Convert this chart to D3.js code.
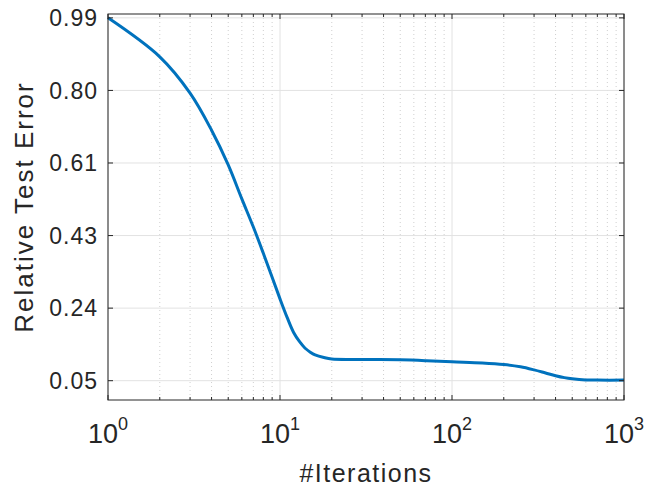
<!DOCTYPE html>
<html>
<head>
<meta charset="utf-8">
<script src="https://cdn.jsdelivr.net/npm/d3@7"></script>
<style>
  body { margin: 0; background: #fff; }
  svg text { font-family: "Liberation Sans", Arial, sans-serif; fill: #262626; }
</style>
</head>
<body>
<div id="chart"></div>
<script>
// values
const iterations = [1, 2, 3, 4, 5, 6, 7, 8, 9, 10, 11, 12, 13, 14, 15, 16, 18, 20, 30, 50, 70, 100, 150, 200, 250, 300, 350, 400, 450, 500, 600, 700, 1000];
const testError  = [0.99, 0.889, 0.795, 0.699, 0.609, 0.521, 0.448, 0.380, 0.318, 0.262, 0.214, 0.175, 0.151, 0.134, 0.124, 0.117, 0.110, 0.106, 0.105, 0.104, 0.102, 0.099, 0.096, 0.092, 0.086, 0.078, 0.070, 0.063, 0.058, 0.055, 0.052, 0.0515, 0.0515];
const yTickValues = [0.05, 0.238, 0.426, 0.614, 0.802, 0.99];
const yTickLabels = ["0.05", "0.24", "0.43", "0.61", "0.80", "0.99"];
const xTickValues = [1, 10, 100, 1000];
const xTickExponents = ["0", "1", "2", "3"];

const width = 648, height = 489;
const margin = {top: 14, right: 24, bottom: 89, left: 108};
const innerW = width - margin.left - margin.right;
const innerH = height - margin.top - margin.bottom;

const svg = d3.select("#chart").append("svg")
    .attr("width", width)
    .attr("height", height);

const g = svg.append("g")
    .attr("transform", `translate(${margin.left},${margin.top})`);

// scales
const x = d3.scaleLog().domain([1, 1000]).range([0, innerW]);
const y = d3.scaleLinear().domain([0, 1]).range([innerH, 0]);

// minor log positions (2..9 in each decade)
const minorX = [];
for (let d = 1; d < 1000; d *= 10) {
    for (let k = 2; k <= 9; k++) minorX.push(d * k);
}

// minor grid (dotted)
g.selectAll(".minor-grid")
    .data(minorX)
    .join("line")
    .attr("x1", d => x(d)).attr("x2", d => x(d))
    .attr("y1", 0).attr("y2", innerH)
    .attr("stroke", "#cfcfcf")
    .attr("stroke-width", 1)
    .attr("stroke-dasharray", "1,3");

// major grid
g.selectAll(".xgrid")
    .data(xTickValues)
    .join("line")
    .attr("x1", d => x(d)).attr("x2", d => x(d))
    .attr("y1", 0).attr("y2", innerH)
    .attr("stroke", "#e2e2e2");

g.selectAll(".ygrid")
    .data(yTickValues)
    .join("line")
    .attr("x1", 0).attr("x2", innerW)
    .attr("y1", d => y(d)).attr("y2", d => y(d))
    .attr("stroke", "#e2e2e2");

// the curve
const line = d3.line()
    .x((d, i) => x(iterations[i]))
    .y(d => y(d))
    .curve(d3.curveCatmullRom.alpha(0.5));

g.append("path")
    .datum(testError)
    .attr("d", line)
    .attr("fill", "none")
    .attr("stroke", "#0072BD")
    .attr("stroke-width", 3)
    .attr("stroke-linejoin", "round");

// box
g.append("rect")
    .attr("width", innerW)
    .attr("height", innerH)
    .attr("fill", "none")
    .attr("stroke", "#262626")
    .attr("stroke-width", 1);

// inward ticks on all four sides
const tickColor = "#262626";
const major = 5, minor = 3;
const xTicks = xTickValues.map(v => ({v, len: major})).concat(minorX.map(v => ({v, len: minor})));

g.selectAll(".xt-bottom")
    .data(xTicks)
    .join("line")
    .attr("x1", d => x(d.v)).attr("x2", d => x(d.v))
    .attr("y1", innerH).attr("y2", d => innerH - d.len)
    .attr("stroke", tickColor);

g.selectAll(".xt-top")
    .data(xTicks)
    .join("line")
    .attr("x1", d => x(d.v)).attr("x2", d => x(d.v))
    .attr("y1", 0).attr("y2", d => d.len)
    .attr("stroke", tickColor);

g.selectAll(".yt-left")
    .data(yTickValues)
    .join("line")
    .attr("x1", 0).attr("x2", major)
    .attr("y1", d => y(d)).attr("y2", d => y(d))
    .attr("stroke", tickColor);

g.selectAll(".yt-right")
    .data(yTickValues)
    .join("line")
    .attr("x1", innerW).attr("x2", innerW - major)
    .attr("y1", d => y(d)).attr("y2", d => y(d))
    .attr("stroke", tickColor);

// y tick labels
g.selectAll(".ylab")
    .data(yTickValues)
    .join("text")
    .attr("x", -10)
    .attr("y", d => y(d))
    .attr("dy", "0.36em")
    .attr("text-anchor", "end")
    .style("font-size", "23px")
    .style("letter-spacing", "1px")
    .text((d, i) => yTickLabels[i]);

// x tick labels: 10 with superscript exponent
const xl = g.selectAll(".xlab")
    .data(xTickValues)
    .join("text")
    .attr("x", d => x(d))
    .attr("y", innerH + 43)
    .attr("text-anchor", "middle")
    .style("font-size", "27px");
xl.append("tspan").text("10");
xl.append("tspan")
    .attr("dy", -13)
    .style("font-size", "18px")
    .text((d, i) => xTickExponents[i]);

// axis titles
g.append("text")
    .attr("x", innerW / 2)
    .attr("y", innerH + 82)
    .attr("text-anchor", "middle")
    .style("font-size", "25px")
    .style("letter-spacing", "1.5px")
    .text("#Iterations");

g.append("text")
    .attr("transform", `translate(${33 - margin.left},${innerH / 2}) rotate(-90)`)
    .attr("text-anchor", "middle")
    .style("font-size", "26px")
    .style("letter-spacing", "2px")
    .text("Relative Test Error");
</script>
</body>
</html>
